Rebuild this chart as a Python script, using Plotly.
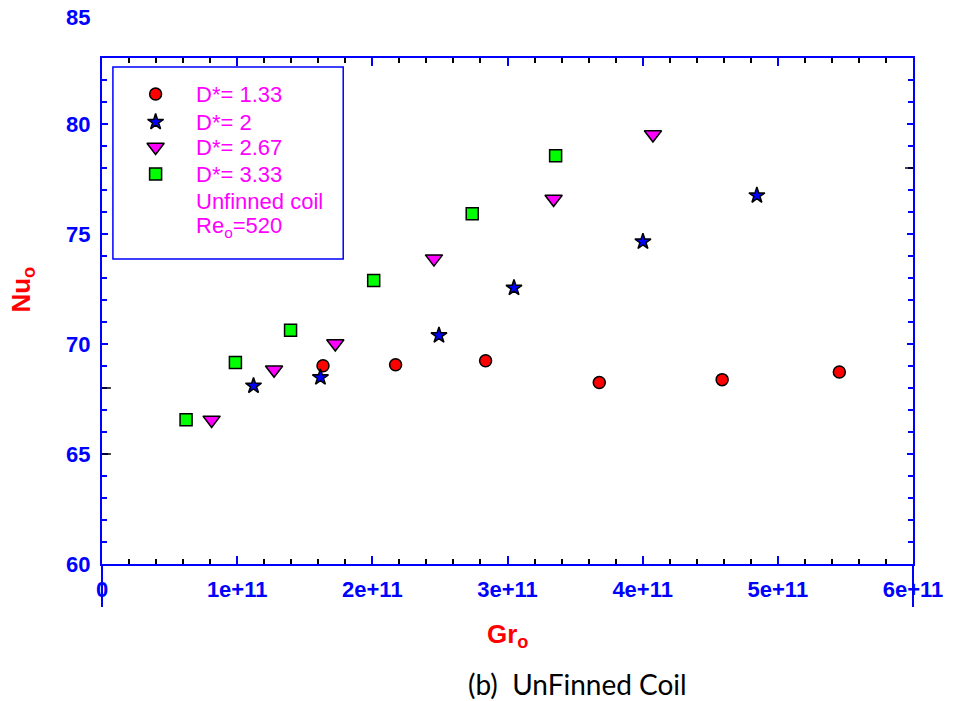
import plotly.graph_objects as go

# ---------------- data ----------------
gr_133 = [1.635e11, 2.172e11, 2.838e11, 3.679e11, 4.588e11, 5.455e11]
nu_133 = [69.01, 69.06, 69.24, 68.25, 68.38, 68.73]

gr_2 = [1.121e11, 1.616e11, 2.493e11, 3.048e11, 4.002e11, 4.845e11]
nu_2 = [68.10, 68.48, 70.39, 72.55, 74.65, 76.75]

gr_267 = [0.811e11, 1.273e11, 1.726e11, 2.456e11, 3.341e11, 4.076e11]
nu_267 = [66.55, 68.83, 70.02, 73.88, 76.59, 79.52]

gr_333 = [0.622e11, 0.987e11, 1.395e11, 2.010e11, 2.739e11, 3.356e11]
nu_333 = [66.56, 69.16, 70.62, 72.89, 75.92, 78.56]

series_names = ["D*= 1.33", "D*= 2", "D*= 2.67", "D*= 3.33"]
extra_legend = ["Unfinned coil", "Re<sub>o</sub>=520"]

x_tickvals = [0, 1e11, 2e11, 3e11, 4e11, 5e11, 6e11]
x_ticktext = ["0", "1e+11", "2e+11", "3e+11", "4e+11", "5e+11", "6e+11"]
y_tickvals = [60, 65, 70, 75, 80]
y_ticktext = ["60", "65", "70", "75", "80"]
y_extra_label = "85"

caption = "(b)  UnFinned Coil"

# ---------------- layout geometry ----------------
W, H = 955, 701
L, R, T, B = 102, 919, 58, 564
PW, PH = R - L, B - T


def px_x(p):
    return (p - L) / PW


def px_y(p):
    return (B - p) / PH


BLUE = "#0000FF"
MAG = "#FF00FF"
RED = "#FF0000"
GREEN = "#00FF00"
FONT = "Liberation Sans, Arial, sans-serif"

styles = [
    dict(symbol="circle", size=12, color=RED),
    dict(symbol="star", size=12, color=BLUE),
    dict(symbol="triangle-down", size=15, color=MAG),
    dict(symbol="square", size=12, color=GREEN),
]

fig = go.Figure()
for (gx, ny), st, nm in zip(
    [(gr_133, nu_133), (gr_2, nu_2), (gr_267, nu_267), (gr_333, nu_333)],
    styles, series_names):
    fig.add_trace(go.Scatter(
        x=gx, y=ny, mode="markers", name=nm, showlegend=False,
        marker=dict(symbol=st["symbol"], size=st["size"], color=st["color"],
                    opacity=1, line=dict(color="black", width=1.5)),
        cliponaxis=False,
    ))

# manual legend: symbols on an overlay axis spanning the plot area (paper-like)
leg_rows = [94, 122, 147, 174, 201, 227]
fig.add_trace(go.Scatter(
    x=[px_x(156)] * 4, y=[px_y(r) for r in leg_rows[:4]],
    mode="markers", xaxis="x2", yaxis="y2", showlegend=False, hoverinfo="skip",
    marker=dict(symbol=[s["symbol"] for s in styles],
                size=[s["size"] for s in styles],
                color=[s["color"] for s in styles], opacity=1,
                line=dict(color="black", width=1.5)),
))

annotations = []
for txt, r in zip(series_names + extra_legend, leg_rows):
    annotations.append(dict(
        x=px_x(195), y=px_y(r), xref="paper", yref="paper",
        text=txt, showarrow=False, xanchor="left", yanchor="middle",
        font=dict(family=FONT, size=22, color=MAG)))

# "85" label outside the frame
annotations.append(dict(
    x=px_x(92), y=px_y(17), xref="paper", yref="paper", text=y_extra_label,
    showarrow=False, xanchor="right", yanchor="middle",
    font=dict(family=FONT, size=22, color=BLUE, weight="bold")))

# axis titles
annotations.append(dict(
    x=px_x(511), y=px_y(635), xref="paper", yref="paper",
    text="Gr<sub>o</sub>", showarrow=False, xanchor="center", yanchor="middle",
    font=dict(family=FONT, size=26, color=RED, weight="bold")))
annotations.append(dict(
    x=px_x(21), y=px_y(290), xref="paper", yref="paper",
    text="Nu<sub>o</sub>", showarrow=False, textangle=-90,
    xanchor="center", yanchor="middle",
    font=dict(family=FONT, size=26, color=RED, weight="bold")))

# caption
annotations.append(dict(
    x=px_x(469), y=px_y(684), xref="paper", yref="paper", text=caption,
    showarrow=False, xanchor="left", yanchor="middle",
    font=dict(family="Lato, 'Open Sans', sans-serif", size=28, color="black")))

shapes = [
    # legend box
    dict(type="rect", xref="paper", yref="paper",
         x0=px_x(113), x1=px_x(345), y0=px_y(259), y1=px_y(67),
         line=dict(color=BLUE, width=1.5), layer="above"),
    # vertical lines extending below the x axis
    dict(type="line", xref="paper", yref="paper", x0=0, x1=0,
         y0=0, y1=px_y(607), line=dict(color=BLUE, width=2), layer="above"),
    dict(type="line", xref="paper", yref="paper", x0=1, x1=1,
         y0=0, y1=px_y(607), line=dict(color=BLUE, width=2), layer="above"),
]
# odd black ticks on the side axes
for yv in [65, 68]:
    shapes.append(dict(type="line", xref="paper", yref="y", x0=0, x1=9 / PW,
                       y0=yv, y1=yv, line=dict(color="black", width=1.5)))
shapes.append(dict(type="line", xref="paper", yref="y", x0=1, x1=1 - 8 / PW,
                   y0=78, y1=78, line=dict(color="black", width=1.5)))

fig.update_layout(
    width=W, height=H,
    margin=dict(l=L, r=W - R, t=T, b=H - B, pad=0),
    paper_bgcolor="white", plot_bgcolor="white",
    showlegend=False,
    annotations=annotations, shapes=shapes,
    xaxis=dict(
        range=[0, 6e11], tickvals=x_tickvals, ticktext=x_ticktext,
        showgrid=False, zeroline=False,
        showline=True, linecolor=BLUE, linewidth=2, mirror="ticks",
        ticks="inside", ticklen=8, tickwidth=1.5, tickcolor=BLUE,
        minor=dict(dtick=0.2e11, tick0=0, ticks="inside", ticklen=5,
                   tickwidth=1.5, tickcolor="black", showgrid=False),
        tickfont=dict(family=FONT, size=22, color=BLUE, weight="bold"),
        ticklabelstandoff=5,
    ),
    yaxis=dict(
        range=[60, 60 + PH / 22.0], tickvals=y_tickvals, ticktext=y_ticktext,
        showgrid=False, zeroline=False,
        showline=True, linecolor=BLUE, linewidth=2, mirror="ticks",
        ticks="inside", ticklen=6, tickwidth=1.5, tickcolor=BLUE,
        minor=dict(dtick=1, tick0=60, ticks="inside", ticklen=5,
                   tickwidth=1.5, tickcolor=BLUE, showgrid=False),
        tickfont=dict(family=FONT, size=22, color=BLUE, weight="bold"),
        ticklabelstandoff=5,
    ),
    xaxis2=dict(overlaying="x", range=[0, 1], visible=False, fixedrange=True),
    yaxis2=dict(overlaying="y", range=[0, 1], visible=False, fixedrange=True),
)

fig.write_html("out.html")
